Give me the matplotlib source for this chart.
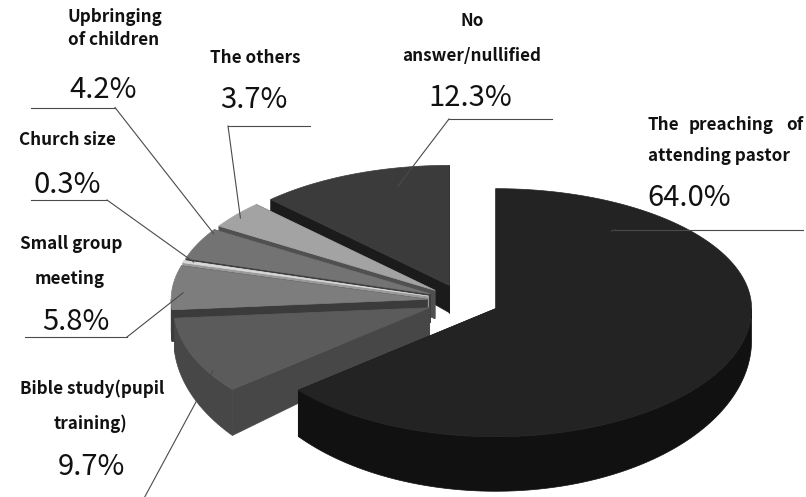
import numpy as np
import matplotlib.pyplot as plt
from matplotlib.patches import Polygon

plt.rcParams['font.family'] = ['Noto Sans CJK KR', 'DejaVu Sans']

# survey shares, clockwise from 12 o'clock
names = ['The preaching of attending pastor', 'Bible study(pupil training)',
         'Small group meeting', 'Church size', 'Upbringing of children',
         'The others', 'No answer/nullified']
values = [64.0, 9.7, 5.8, 0.3, 4.2, 3.7, 12.3]
top_colors = ['#232323', '#5b5b5b', '#7d7d7d', '#d9d9d9', '#737373', '#a3a3a3', '#3b3b3b']
side_colors = ['#111111', '#474747', '#3b3b3b', '#9a9a9a', '#3f3f3f', '#505050', '#1b1b1b']

# pseudo 3d geometry (pixels)
cx, cy = 463, 301
rx, ry_back, ry_front = 256, 120, 128
explode = 36


def depth(y):
    return 12 + 0.18 * (y - 200)


def ry_of(a):
    return ry_back if np.cos(a) > 0 else ry_front


def pt(ang, r, off):
    a = np.radians(ang)
    return cx + off[0] + rx * r * np.sin(a), cy + off[1] - ry_of(a) * r * np.cos(a)


def down(p):
    return p[0], p[1] + depth(p[1])


fig = plt.figure(figsize=(8.06, 4.97), dpi=100)
ax = fig.add_axes([0, 0, 1, 1])
ax.set_xlim(0, 806)
ax.set_ylim(497, 0)
ax.axis('off')

total = sum(values)
bounds = np.concatenate([[0], np.cumsum(values) / total * 360])
offsets = []
for i in range(len(values)):
    b = np.radians((bounds[i] + bounds[i + 1]) / 2)
    offsets.append((explode * np.sin(b), -explode * np.cos(b) * ry_of(b) / rx))

# back slices first
for i in reversed(range(len(values))):
    a0, a1, off = bounds[i], bounds[i + 1], offsets[i]
    v = pt(0, 0, off)
    for a in (a1, a0):
        p = pt(a, 1, off)
        ax.add_patch(Polygon([v, p, down(p), down(v)], closed=True,
                             fc=side_colors[i], ec=side_colors[i], lw=0.5, zorder=i * -3 + 30))
    lo, hi = max(a0, 90), min(a1, 270)
    if hi > lo:
        arc = [pt(a, 1, off) for a in np.linspace(lo, hi, 120)]
        ax.add_patch(Polygon(arc + [down(p) for p in arc[::-1]], closed=True,
                             fc=side_colors[i], ec=side_colors[i], lw=0.5, zorder=i * -3 + 31))
    n = max(4, int((a1 - a0) * 2))
    top = [v] + [pt(a, 1, off) for a in np.linspace(a0, a1, n)]
    ax.add_patch(Polygon(top, closed=True, fc=top_colors[i], ec=top_colors[i],
                         lw=0.5, zorder=i * -3 + 32))

# leader lines: anchor inside slice (fraction of span, radius), elbow, underline end
anchors = [(0.152, 0.79), (0.27, 0.98), (0.38, 0.955), (0.9, 0.96), (0.89, 0.985), (0.45, 0.97), (0.69, 0.85)]
elbows = [(615, 230), (135, 515), (127, 337), (107, 200), (115, 107.5), (228, 126), (449, 119)]
under_ends = [803, None, 25, 31, 31, 310, 552]
for i in range(len(values)):
    f, r = anchors[i]
    ang = bounds[i] + f * (bounds[i + 1] - bounds[i])
    p = pt(ang, r, offsets[i])
    ex, ey = elbows[i]
    ax.plot([p[0], ex], [p[1], ey], color='#4a4a4a', lw=0.8, zorder=40)
    if under_ends[i] is not None:
        ax.plot([ex, under_ends[i]], [ey, ey], color='#4a4a4a', lw=0.8, zorder=40)

# category labels
lab = dict(fontsize=12.3, fontweight='bold', color='#111111', va='center', zorder=50)
ax.text(648, 125, 'The', ha='left', **lab)
ax.text(731, 125, 'preaching', ha='center', **lab)
ax.text(803, 125, 'of', ha='right', **lab)
ax.text(648, 156, 'attending pastor', ha='left', **lab)
ax.text(92, 389, 'Bible study(pupil', ha='center', **lab)
ax.text(91, 424, 'training)', ha='center', **lab)
ax.text(71, 244, 'Small group', ha='center', **lab)
ax.text(70, 279, 'meeting', ha='center', **lab)
ax.text(67, 140, 'Church size', ha='center', **lab)
ax.text(115, 17, 'Upbringing', ha='center', **lab)
ax.text(114, 40, 'of children', ha='center', **lab)
ax.text(255, 58, 'The others', ha='center', **lab)
ax.text(472, 21, 'No', ha='center', **lab)
ax.text(472, 56, 'answer/nullified', ha='center', **lab)

# percentages
pct = dict(fontsize=21, color='#111111', va='center', ha='center', zorder=50)
pct_pos = [(689, 198), (91, 467), (76, 322), (67, 185), (103, 90), (254, 100), (470, 98)]
for v, (x, y) in zip(values, pct_pos):
    ax.text(x, y, '%.1f%%' % v, **pct)

fig.savefig('out.png', dpi=100, facecolor='white')
